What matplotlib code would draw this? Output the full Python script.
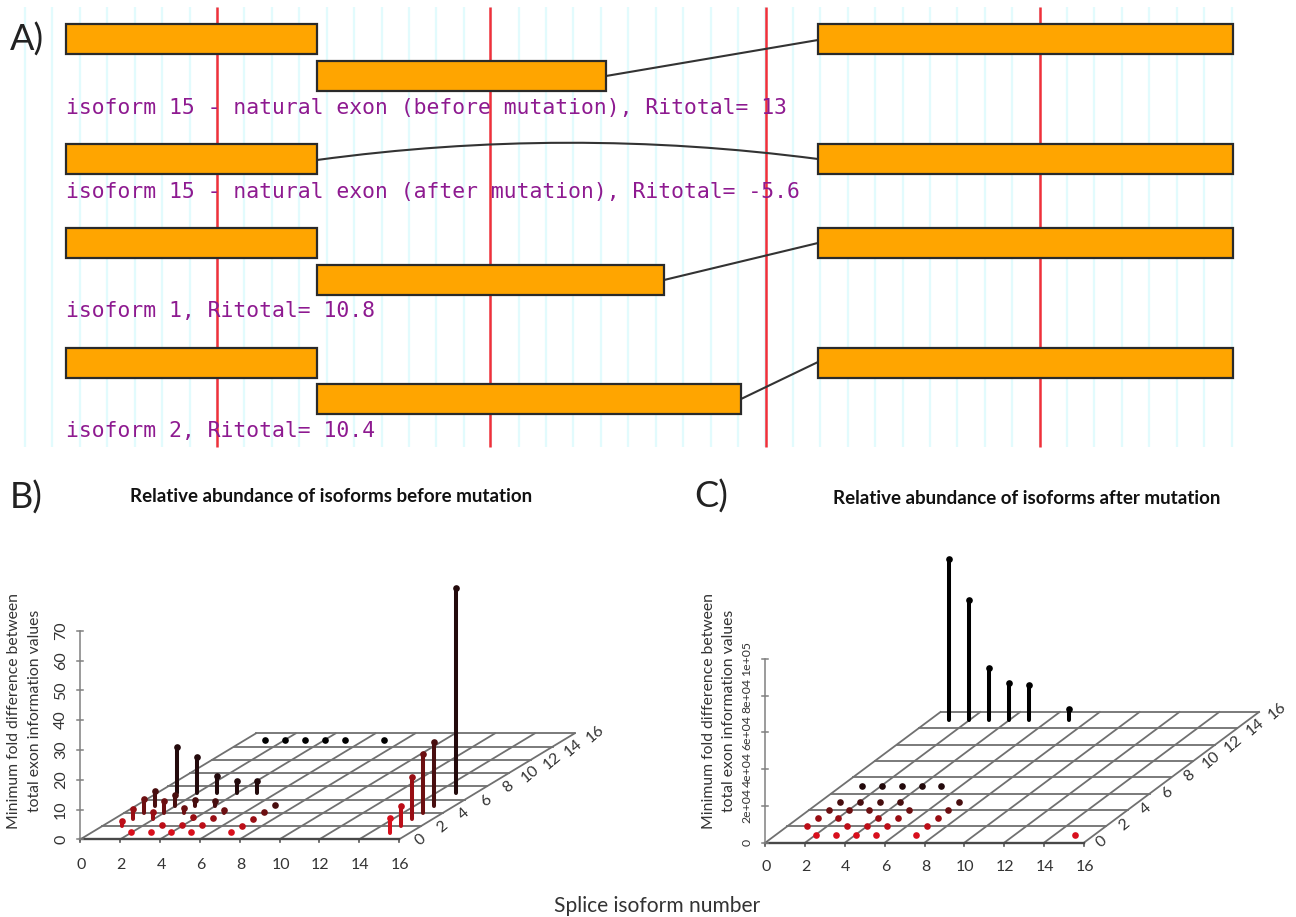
import numpy as np
import matplotlib
matplotlib.use("Agg")
import matplotlib.pyplot as plt
from matplotlib.patches import Rectangle, PathPatch
from matplotlib.path import Path

# ---- Panel A data (positions along the transcript, in picture units) ----
exon_rows = [
    [(66, 317, 24), (317, 606, 61), (818, 1233, 24)],
    [(66, 317, 144), (818, 1233, 144)],
    [(66, 317, 228), (317, 664, 265), (818, 1233, 228)],
    [(66, 317, 348), (317, 741, 384), (818, 1233, 348)],
]
isoform_labels = [
    "isoform 15 - natural exon (before mutation), Ritotal= 13",
    "isoform 15 - natural exon (after mutation), Ritotal= -5.6",
    "isoform 1, Ritotal= 10.8",
    "isoform 2, Ritotal= 10.4",
]
label_y = [108, 192, 311, 431]
splice_links = [(606, 76, 818, 40), (664, 280, 818, 243), (741, 399, 818, 362)]
red_marks = [217, 490, 766, 1040]

# ---- Panels B and C data: isoform pair (x, y) and height z ----
b_x = [2, 3, 4, 5, 7, 15,
       1, 3, 4, 5, 7, 15,
       1, 2, 4, 5, 7, 15,
       1, 2, 3, 5, 7, 15,
       1, 2, 3, 4, 7, 15,
       1, 2, 3, 4, 5, 15,
       1, 2, 3, 4, 5, 7]
b_y = [1, 1, 1, 1, 1, 1,
       2, 2, 2, 2, 2, 2,
       3, 3, 3, 3, 3, 3,
       4, 4, 4, 4, 4, 4,
       5, 5, 5, 5, 5, 5,
       7, 7, 7, 7, 7, 7,
       15, 15, 15, 15, 15, 15]
b_z = [0.3, 0.2, 0.2, 0.2, 0.1, 4.8,
       1.6, 0.4, 0.3, 0.3, 0.1, 6.6,
       3.4, 2.6, 0.8, 0.6, 0.3, 14.1,
       4.8, 3.8, 1.5, 0.8, 0.2, 19.9,
       5.2, 3.9, 2.0, 1.7, 0.3, 21.5,
       15.3, 12.0, 5.6, 4.1, 3.9, 68.7,
       0.1, 0.1, 0.1, 0.1, 0.1, 0.1]

c_x = [2, 3, 4, 5, 7, 15,
       1, 3, 4, 5, 7,
       1, 2, 4, 5, 7,
       1, 2, 3, 5, 7,
       1, 2, 3, 4, 7,
       1, 2, 3, 4, 5,
       1, 2, 3, 4, 5, 7]
c_y = [1, 1, 1, 1, 1, 1,
       2, 2, 2, 2, 2,
       3, 3, 3, 3, 3,
       4, 4, 4, 4, 4,
       5, 5, 5, 5, 5,
       7, 7, 7, 7, 7,
       15, 15, 15, 15, 15, 15]
c_z = [0, 0, 0, 0, 0, 0,
       0, 0, 0, 0, 0,
       0, 0, 0, 0, 0,
       0, 0, 0, 0, 0,
       0, 0, 0, 0, 0,
       0, 0, 0, 0, 0,
       87500, 65300, 28500, 20300, 19000, 5800]

row_colors = {1: "#d80f1c", 2: "#bc0e18", 3: "#980e14", 4: "#6c0f11", 5: "#480e0f",
              7: "#230a0c", 15: "#000000"}

xy_ticks = list(range(0, 17, 2))
b_ztick_values = [0, 10, 20, 30, 40, 50, 60, 70]
b_ztick_labels = ["0", "10", "20", "30", "40", "50", "60", "70"]
c_ztick_values = [0, 20000, 40000, 60000, 80000, 100000]
c_ztick_labels = ["0", "2e+04", "4e+04", "6e+04", "8e+04", "1e+05"]

title_b = "Relative abundance of isoforms before mutation"
title_c = "Relative abundance of isoforms after mutation"
ylab1 = "Minimum fold difference between"
ylab2 = "total exon information values"
xlab = "Splice isoform number"

SANS = "Lato"

fig = plt.figure(figsize=(12.96, 9.17), dpi=100, facecolor="white")
ax = fig.add_axes([0, 0, 1, 1])
ax.set_xlim(0, 1296)
ax.set_ylim(917, 0)
ax.axis("off")

# ---------------- Panel A ----------------
ax.vlines(np.arange(217 - 7 * 27.42, 1240, 27.42), 7, 447, color="#e2fbfd", lw=1.6, zorder=1)
ax.vlines(red_marks, 7, 447, color="#f0303a", lw=1.8, zorder=2)
for row in exon_rows:
    for start, end, top in row:
        ax.add_patch(Rectangle((start, top), end - start, 30, fc="#ffa500", ec="#2a2a2a", lw=1.6, zorder=4))
for x0, y0, x1, y1 in splice_links:
    ax.plot([x0, x1], [y0, y1], color="#333333", lw=1.5, zorder=3)
ax.add_patch(PathPatch(Path([(317, 160), (566, 126), (818, 159)],
                            [Path.MOVETO, Path.CURVE3, Path.CURVE3]),
                       fc="none", ec="#333333", lw=1.5, zorder=3))
for text, y in zip(isoform_labels, label_y):
    ax.text(66, y, text, family="DejaVu Sans Mono", fontsize=15.4, color="#8e1a90",
            va="center", ha="left", zorder=5)

ax.text(10, 40, "A)", family=SANS, fontsize=26, color="#222222", va="center", ha="left")
ax.text(10, 498, "B)", family=SANS, fontsize=26, color="#222222", va="center", ha="left")
ax.text(694, 497, "C)", family=SANS, fontsize=26, color="#222222", va="center", ha="left")


# ---------------- Panels B, C ----------------
def panel(xs, ys, zs, ox, oy, sx, dx, dy, sz, zticks, zlabels, ztop, zlab_x,
          yl1_x, yl2_x, zfont, ymid, xlab_off, ylab_off):
    def px(x, y, z=0):
        return ox + np.asarray(x, float) * sx + np.asarray(y, float) * dx, \
               oy - np.asarray(y, float) * dy - np.asarray(z, float) * sz

    for t in xy_ticks:
        a, b = px([0, 16], [t, t])
        ax.plot(a, b, color="#707070", lw=1.3, zorder=6)
        a, b = px([t, t], [0, 16])
        ax.plot(a, b, color="#707070", lw=1.3, zorder=6)
        a, b = px(t, 0)
        ax.plot([a, a], [b, b + 3], color="#555555", lw=1.2, zorder=6)
        ax.text(a + 1, oy + xlab_off, str(t), family=SANS, fontsize=11.5, color="#333333",
                ha="center", va="center")
        a, b = px(16, t)
        ax.text(a + ylab_off[0], b + ylab_off[1], str(t), family=SANS, fontsize=11.5,
                color="#333333", ha="center", va="center", rotation=40)
    a, b = px([0, 16], [0, 0])
    ax.plot(a, b, color="#484848", lw=1.7, zorder=6)

    # vertical axis
    ax.plot([ox, ox], [oy, oy - ztop * sz], color="#808080", lw=1.1, zorder=6)
    for v, lab in zip(zticks, zlabels):
        y = oy - v * sz
        ax.plot([ox - 3, ox + 3], [y, y], color="#808080", lw=1.1, zorder=6)
        ax.text(zlab_x, y, lab, family=SANS, fontsize=zfont, color="#333333", rotation=90,
                ha="center", va="center")

    # stems and points
    for x, y, z in zip(xs, ys, zs):
        col = row_colors[y]
        a0, b0 = px(x, y, 0)
        a1, b1 = px(x, y, z)
        if z * sz > 1:
            ax.plot([a0, a1], [b0, b1], color=col, lw=2.9, solid_capstyle="round", zorder=7)
        ax.plot([a1], [b1], "o", color=col, ms=4.8, mew=0, zorder=8)

    ax.text(yl1_x, ymid, ylab1, family=SANS, fontsize=11.3, color="#333333", rotation=90,
            ha="center", va="center")
    ax.text(yl2_x, ymid, ylab2, family=SANS, fontsize=11.3, color="#333333", rotation=90,
            ha="center", va="center")


panel(b_x, b_y, b_z, 80.4, 839.3, 19.92, 10.97, 6.62, 2.98,
      b_ztick_values, b_ztick_labels, 70, 61, 14, 35, 11.5, 711, 26, (21, 1))
panel(c_x, c_y, c_z, 765.3, 842.7, 19.91, 10.95, 8.17, 183.7 / 1e5,
      c_ztick_values, c_ztick_labels, 100000, 747, 709, 729, 8.8, 711, 24, (18, -1))

ax.text(331, 497, title_b, family=SANS, fontsize=13.5, weight="bold", color="#111111",
        ha="center", va="center")
ax.text(1027, 499, title_c, family=SANS, fontsize=13.5, weight="bold", color="#111111",
        ha="center", va="center")
ax.text(657, 906, xlab, family=SANS, fontsize=15.1, color="#333333", ha="center", va="center")

fig.savefig("out.png", dpi=100, facecolor="white")
